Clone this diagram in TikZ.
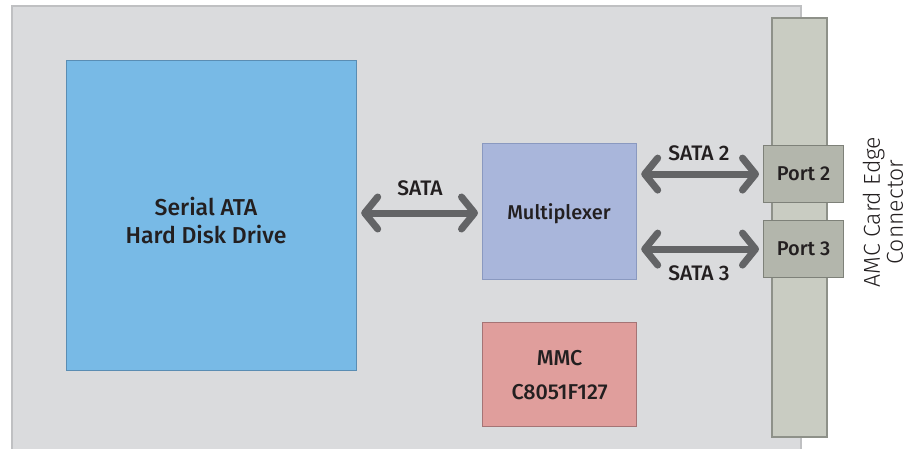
\documentclass[tikz,border=0pt]{standalone}
\usepackage{fontspec}
\setmainfont{Fira Sans}[BoldFont={Fira Sans Medium}]
\newfontfamily\lightfont{Fira Sans Light}
\usetikzlibrary{arrows.meta}
\definecolor{boardfill}{HTML}{DADBDD}
\definecolor{boardline}{HTML}{BFC0C2}
\definecolor{connfill}{HTML}{C9CCC2}
\definecolor{connline}{HTML}{8E9189}
\definecolor{hddfill}{HTML}{78BAE6}
\definecolor{hddline}{HTML}{5A8DB3}
\definecolor{muxfill}{HTML}{A9B6DB}
\definecolor{muxline}{HTML}{8A99C0}
\definecolor{mmcfill}{HTML}{E09E9C}
\definecolor{mmcline}{HTML}{A57475}
\definecolor{portfill}{HTML}{B3B6AC}
\definecolor{portline}{HTML}{7E8179}
\definecolor{arrowcol}{HTML}{636466}
\definecolor{textcol}{HTML}{231F20}
\tikzset{
  blockbox/.style={draw, line width=1.2pt, inner sep=0pt, anchor=north west, font=\bfseries\fontsize{20}{24}\selectfont, text=textcol, align=center},
  biarrow/.style={arrowcol, line width=7pt, {Straight Barb[length=13pt,width=32pt,round]}-{Straight Barb[length=13pt,width=32pt,round]}},
  lbl/.style={font=\bfseries\fontsize{21}{24}\selectfont, text=textcol}
}
\begin{document}
\begin{tikzpicture}[x=1pt,y=-1pt]
\useasboundingbox (0,0) rectangle (909,449);
\clip (0,0) rectangle (909,449);
% board
\draw[fill=boardfill, draw=boardline, line width=1.5pt] (12,6) rectangle (801,470);
% connector strip
\draw[fill=connfill, draw=connline, line width=1.5pt] (772,18) rectangle (827,437);
% blocks
\node[blockbox, fill=hddfill, draw=hddline, minimum width=290pt, minimum height=310pt] (hdd) at (66,60) {};
\node[font=\bfseries\fontsize{23}{28}\selectfont, text=textcol, align=center] (hddtxt) at (206,221) {Serial ATA\\Hard Disk Drive};
\node[blockbox, fill=muxfill, draw=muxline, minimum width=154pt, minimum height=136pt] (mux) at (482,143) {};
\node[font=\bfseries\fontsize{20}{24}\selectfont, text=textcol] (muxtxt) at (559,214) {Multiplexer};
\node[blockbox, fill=mmcfill, draw=mmcline, minimum width=154pt, minimum height=104pt, font=\bfseries\fontsize{21.5}{34}\selectfont] (mmc) at (482,322) {MMC\\C8051F127};
\node[blockbox, fill=portfill, draw=portline, minimum width=80pt, minimum height=57pt] (p2) at (763,145) {Port 2};
\node[blockbox, fill=portfill, draw=portline, minimum width=80pt, minimum height=57pt] (p3) at (763,220) {Port 3};
% arrows
\draw[biarrow] ([xshift=4pt]hdd.east |- 0,213) -- ([xshift=-4pt]mux.west |- 0,213);
\draw[biarrow] ([xshift=4pt]mux.east |- p2.west) -- ([xshift=-4pt]p2.west);
\draw[biarrow] ([xshift=4pt]mux.east |- p3.west) -- ([xshift=-4pt]p3.west);
% labels
\node[lbl] (l1) at (420,188) {SATA};
\node[lbl] (l2) at (699,153) {SATA 2};
\node[lbl] (l3) at (699,273) {SATA 3};
\node[font=\lightfont\fontsize{23}{23}\selectfont, text=textcol, rotate=90, align=center] (amc) at (883,212) {AMC Card Edge\\Connector};
\end{tikzpicture}
\end{document}
